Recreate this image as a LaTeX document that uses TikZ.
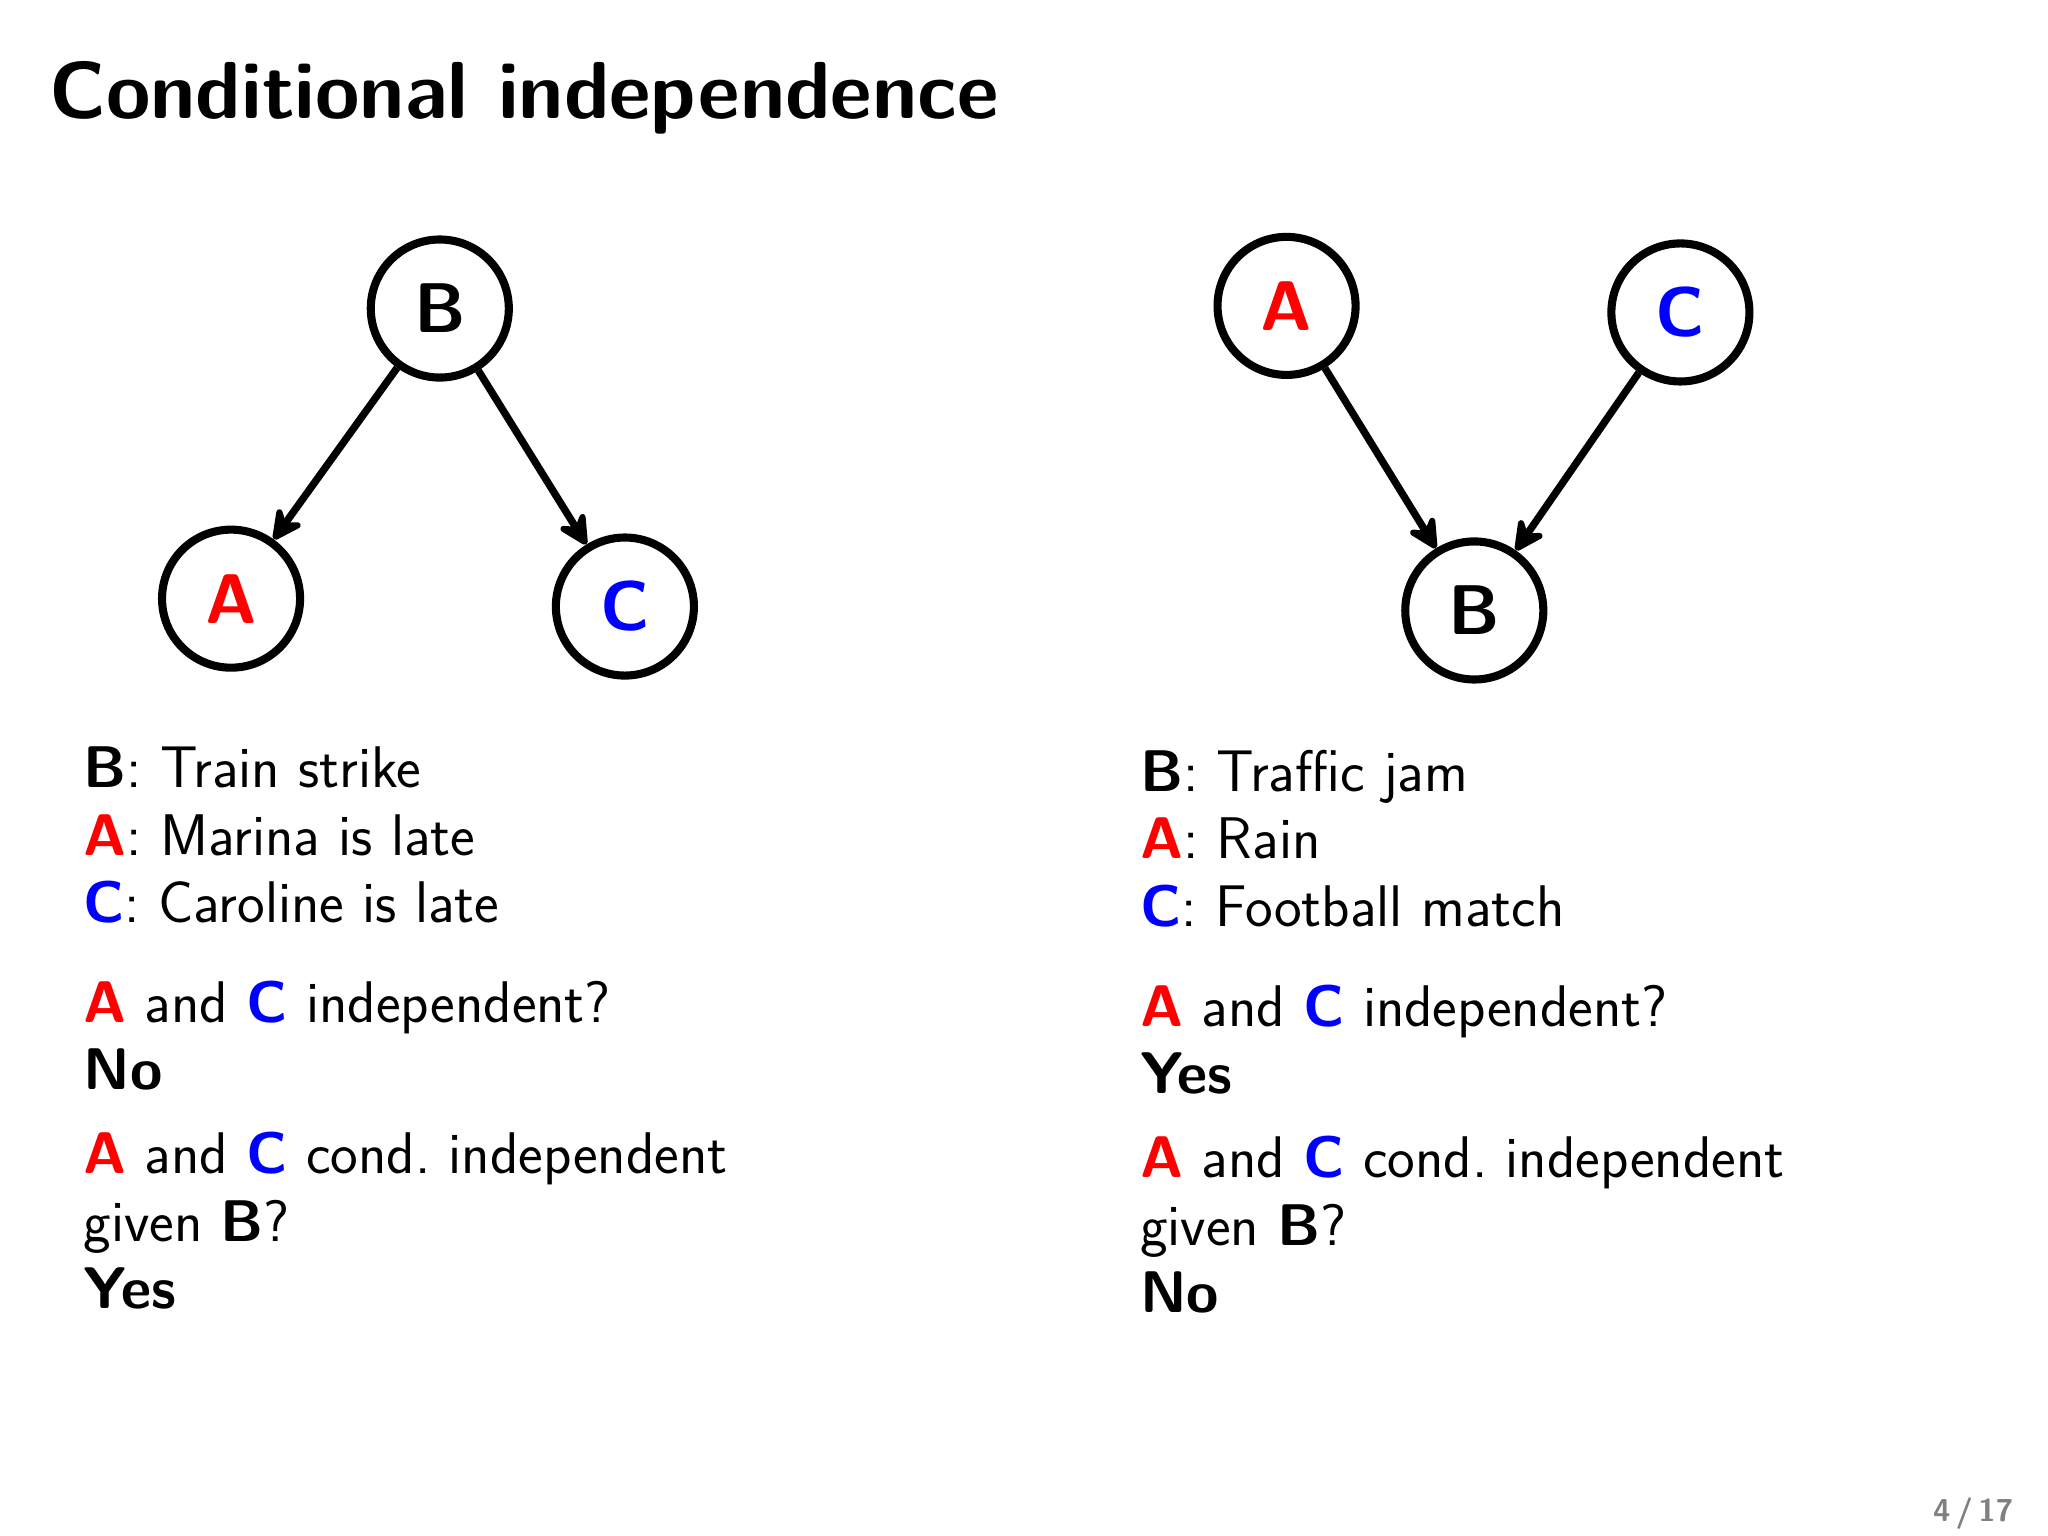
\documentclass[tikz,border=0pt]{standalone}
\usepackage{tikz}
\usetikzlibrary{arrows.meta}
\renewcommand{\familydefault}{\sfdefault}
\tikzstyle{var} = [circle, draw=black, line width=2.3pt, minimum size=1.38cm, inner sep=0pt, font=\fontsize{20}{24}\selectfont\bfseries]
\tikzstyle{txt} = [anchor=base west, inner sep=0pt, font=\fontsize{16.7}{19}\selectfont]
\tikzstyle{arrow} = [line width=2.1pt,-{Stealth[length=11pt,width=11pt,inset=4pt,round]}]
\newcommand{\vA}{\textcolor{red}{\textbf{A}}}
\newcommand{\vB}{\textbf{B}}
\newcommand{\vC}{\textcolor{blue}{\textbf{C}}}
\begin{document}
\begin{tikzpicture}[x=0.013128cm, y=-0.013128cm]
    \useasboundingbox (0,0) rectangle (1560,1170);
    % Title
    \node [anchor=base west, inner sep=0pt, font=\fontsize{23}{27}\selectfont\bfseries] (title) at (37,90) {Conditional independence};
    % Left graph
    \node (lB) [var] at (335,235) {B};
    \node (lA) [var] at (176,456) {\textcolor{red}{A}};
    \node (lC) [var] at (476,462) {\textcolor{blue}{C}};
    \draw [arrow] (lB) -- (lA);
    \draw [arrow] (lB) -- (lC);
    % Right graph
    \node (rA) [var] at (980,233) {\textcolor{red}{A}};
    \node (rC) [var] at (1280,238) {\textcolor{blue}{C}};
    \node (rB) [var] at (1123,465) {B};
    \draw [arrow] (rA) -- (rB);
    \draw [arrow] (rC) -- (rB);
    % Left text
    \node (l1) [txt] at (63,600) {\vB: Train strike};
    \node (l2) [txt] at (63,652) {\vA: Marina is late};
    \node (l3) [txt] at (63,703) {\vC: Caroline is late};
    \node (l4) [txt] at (63,779) {\vA{} and \vC{} independent?};
    \node (l5) [txt] at (63,830) {\textbf{No}};
    \node (l6) [txt] at (63,894) {\vA{} and \vC{} cond.\ independent};
    \node (l7) [txt] at (63,946) {given \vB?};
    \node (l8) [txt] at (63,997) {\textbf{Yes}};
    % Right text
    \node (r1) [txt] at (868,603) {\vB: Traffic jam};
    \node (r2) [txt] at (868,654) {\vA: Rain};
    \node (r3) [txt] at (868,706) {\vC: Football match};
    \node (r4) [txt] at (868,782) {\vA{} and \vC{} independent?};
    \node (r5) [txt] at (868,833) {\textbf{Yes}};
    \node (r6) [txt] at (868,897) {\vA{} and \vC{} cond.\ independent};
    \node (r7) [txt] at (868,949) {given \vB?};
    \node (r8) [txt] at (868,1000) {\textbf{No}};
    % Page number
    \node (page) [anchor=base east, inner sep=0pt, text=gray, font=\fontsize{9}{11}\selectfont\bfseries] at (1534,1159) {4\,/\,17};
\end{tikzpicture}
\end{document}
